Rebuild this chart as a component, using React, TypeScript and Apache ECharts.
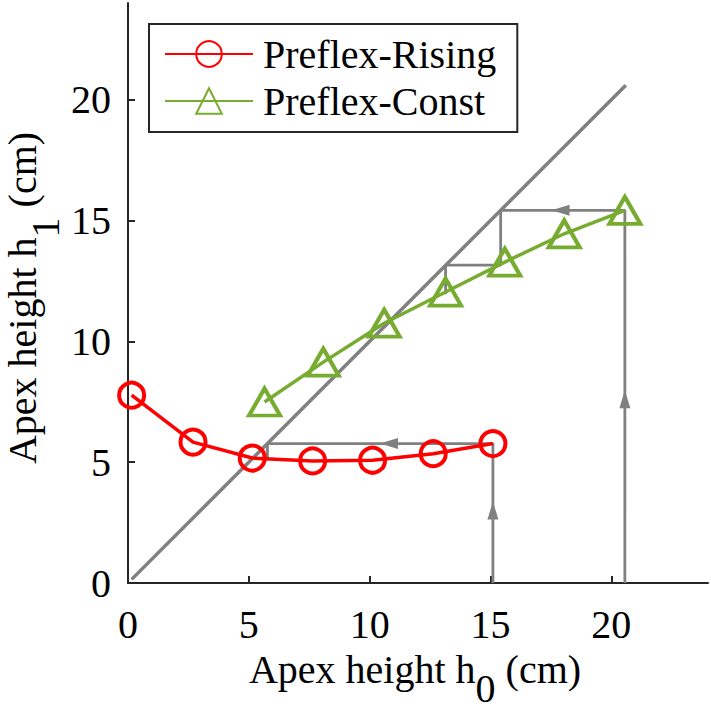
import React, { useEffect, useRef } from "react";
import * as echarts from "echarts";

// ---- data ----
const risingX = [0.15, 2.69, 5.14, 7.64, 10.12, 12.63, 15.1];
const risingY = [7.77, 5.83, 5.17, 5.05, 5.08, 5.35, 5.77];
const constX = [5.65, 8.08, 10.6, 13.14, 15.59, 18.05, 20.56];
const constY = [7.49, 9.14, 10.75, 12.04, 13.28, 14.45, 15.42];
const diagonal = [[0.15, 0.15], [20.6, 20.6]];
const cobwebRising = [[15.1, 0], [15.1, 5.77], [5.77, 5.77], [5.77, 5.17]];
const cobwebConst = [[20.56, 0], [20.56, 15.42], [15.42, 15.42], [15.42, 13.15], [13.14, 13.15], [13.14, 11.95]];
// arrows: [x, y, direction] direction 0 = up, 90 = left
const arrows = [[15.1, 3.0, 0], [10.8, 5.77, 90], [20.56, 7.6, 0], [17.9, 15.42, 90]];
const tickValues = [0, 5, 10, 15, 20];
const seriesNames = ["Preflex-Rising", "Preflex-Const"];
const xTitle = ["Apex height h", "0", " (cm)"];
const yTitle = ["Apex height h", "1", " (cm)"];

const RED = "#ff0000";
const GREEN = "#77ac30";
const GRAY = "#808080";
const AXIS = "#262626";
const FONT = "Liberation Serif";
const FS = 40;

function measure(t: string): number {
  const c = document.createElement("canvas");
  const ctx = c.getContext("2d");
  if (!ctx) return t.length * FS * 0.5;
  ctx.font = `${FS}px '${FONT}'`;
  return ctx.measureText(t).width;
}

function titleGroup(parts: string[], x: number, y: number, rotation: number, subShift: number) {
  const w = parts.map(measure);
  const total = w[0] + w[1] + w[2];
  let cx = -total / 2;
  const children: any[] = [];
  parts.forEach((p, i) => {
    children.push({
      type: "text",
      x: cx,
      y: i === 1 ? subShift : 0,
      style: {
        text: p,
        fontSize: FS,
        fontFamily: FONT,
        fill: "#000",
        align: "left",
        verticalAlign: "middle",
      },
    });
    cx += w[i];
  });
  return { type: "group", x, y, rotation, children };
}

export default function App() {
  const ref = useRef<HTMLDivElement>(null);
  useEffect(() => {
    if (!ref.current) return;
    const chart = echarts.init(ref.current, null, { renderer: "svg" });
    const axisCommon = {
      type: "value",
      min: 0,
      max: 24,
      interval: 5,
      splitLine: { show: false },
      axisLine: { show: true, lineStyle: { color: AXIS, width: 2 } },
      axisTick: { show: true, inside: true, length: 7, lineStyle: { color: AXIS, width: 2 }, customValues: tickValues },
    };
    chart.setOption({
      animation: false,
      backgroundColor: "#ffffff",
      grid: { left: 128, top: 3, width: 580, height: 580, containLabel: false },
      xAxis: {
        ...axisCommon,
        axisLabel: {
          fontSize: FS, fontFamily: FONT, color: "#000", margin: 21,
          customValues: tickValues,
          formatter: (v: number) => (v % 5 === 0 ? String(v) : ""),
        },
      },
      yAxis: {
        ...axisCommon,
        axisLabel: {
          fontSize: FS, fontFamily: FONT, color: "#000", margin: 17,
          customValues: tickValues,
          formatter: (v: number) => (v % 5 === 0 ? String(v) : ""),
        },
      },
      legend: {
        orient: "vertical",
        left: 149,
        top: 24,
        data: seriesNames,
        padding: [10, 21, 11, 15],
        itemGap: 7,
        itemWidth: 88,
        itemHeight: 32,
        borderColor: AXIS,
        borderWidth: 2,
        backgroundColor: "#ffffff",
        textStyle: { fontSize: FS, fontFamily: FONT, color: "#000", lineHeight: 40, padding: [0, 0, 0, 5] },
      },
      graphic: [
        titleGroup(xTitle, 415, 669, 0, 19),
        titleGroup(yTitle, 22, 298, Math.PI / 2, 23),
      ],
      series: [
        {
          type: "line",
          name: "diag",
          data: diagonal,
          symbol: "none",
          silent: true,
          lineStyle: { color: GRAY, width: 3.5 },
          z: 1,
        },
        {
          type: "line",
          name: "cobweb1",
          data: cobwebRising,
          symbol: "none",
          silent: true,
          lineStyle: { color: GRAY, width: 2.8 },
          z: 1,
        },
        {
          type: "line",
          name: "cobweb2",
          data: cobwebConst,
          symbol: "none",
          silent: true,
          lineStyle: { color: GRAY, width: 2.8 },
          z: 1,
        },
        {
          type: "scatter",
          name: "arrows",
          silent: true,
          symbol: "triangle",
          symbolSize: [11, 18],
          itemStyle: { color: GRAY, opacity: 1 },
          data: arrows.map((a) => ({ value: [a[0], a[1]], symbolRotate: a[2] })),
          z: 2,
        },
        {
          type: "line",
          name: seriesNames[0],
          data: risingX.map((x, i) => [x, risingY[i]]),
          symbol: "circle",
          symbolSize: 25,
          showAllSymbol: true,
          itemStyle: { color: "rgba(0,0,0,0)", borderColor: RED, borderWidth: 4 },
          lineStyle: { color: RED, width: 3.5 },
          z: 3,
        },
        {
          type: "line",
          name: seriesNames[1],
          data: constX.map((x, i) => [x, constY[i]]),
          symbol: "triangle",
          symbolSize: [31, 27],
          showAllSymbol: true,
          itemStyle: { color: "rgba(0,0,0,0)", borderColor: GREEN, borderWidth: 4 },
          lineStyle: { color: GREEN, width: 3.5 },
          z: 3,
        },
      ],
    });
    return () => chart.dispose();
  }, []);
  return (
    <div
      ref={ref}
      style={{ position: "fixed", left: 0, top: 0, width: 711, height: 712, background: "#fff" }}
    />
  );
}
